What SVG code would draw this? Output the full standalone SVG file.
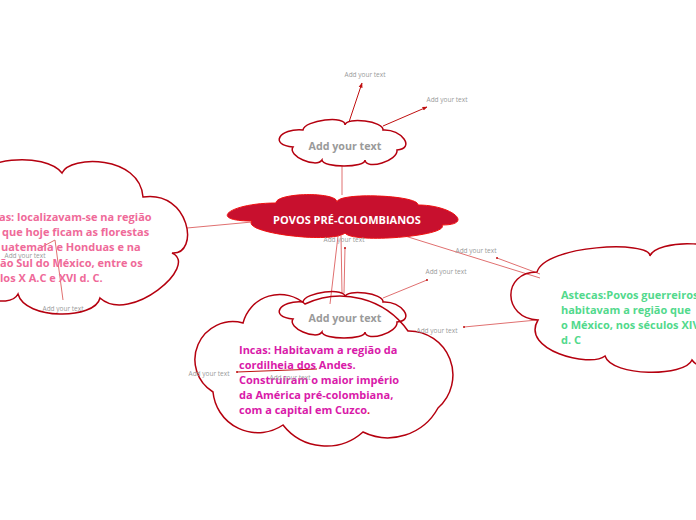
<svg xmlns="http://www.w3.org/2000/svg" width="696" height="520" viewBox="0 0 696 520">
<style>
.cl{fill:none;stroke:#b5000f;stroke-width:1.5}
.cw{fill:#fff;stroke:#b5000f;stroke-width:1.5}
.ln{stroke:#e07070;stroke-width:1;fill:none}
.dk{stroke:#c01010;stroke-width:1;fill:none}
.lb{font-family:"Open Sans","Liberation Sans",sans-serif;font-size:6.5px;fill:#9a9a9a;text-anchor:middle}
.sm{font-family:"Open Sans","Liberation Sans",sans-serif;font-size:10.7px;font-weight:700;fill:#9a9a9a;text-anchor:middle}
.bt{font-family:"Open Sans","Liberation Sans",sans-serif;font-size:11px;font-weight:700}
.dot{fill:#c01010}
</style>
<defs>
<marker id="ar" viewBox="0 0 10 10" refX="9" refY="5" markerWidth="5" markerHeight="5" orient="auto">
<path d="M0,1 L10,5 L0,9 Z" fill="#c01010"/>
</marker>
</defs>
<rect width="696" height="520" fill="#fff"/>

<g id="connectors">
<line class="ln" x1="342" y1="165" x2="342" y2="195" stroke-width="2" stroke="#e59a9a"/>
<line class="dk" x1="349" y1="122" x2="362" y2="83" marker-end="url(#ar)"/>
<line class="dk" x1="383" y1="126" x2="427" y2="107" marker-end="url(#ar)"/>
<line class="ln" x1="187" y1="228" x2="252" y2="222"/>
<line class="ln" x1="338" y1="236" x2="330" y2="304"/>
<line class="ln" x1="341" y1="236" x2="342" y2="293"/>
<line class="ln" x1="345" y1="248" x2="344" y2="293"/>
<circle class="dot" cx="345" cy="248" r="1"/>
<line class="ln" x1="383" y1="298" x2="427" y2="280"/>
<circle class="dot" cx="427" cy="280" r="1"/>
<line class="ln" x1="405" y1="236" x2="540" y2="278"/>
<line class="ln" x1="497" y1="258" x2="540" y2="274"/>
<circle class="dot" cx="497" cy="258" r="1"/>
<line class="ln" x1="464" y1="327" x2="537" y2="320"/>
<circle class="dot" cx="464" cy="327" r="1"/>
<line class="ln" x1="55" y1="240" x2="63" y2="300"/>
<line class="ln" x1="55" y1="240" x2="40" y2="248"/>
<line class="dk" x1="237" y1="372" x2="317" y2="369" stroke="#d05060"/>
<circle class="dot" cx="237" cy="372" r="1"/>
</g>

<g id="central">
<path d="M252,221 C206,221 230,203 276,203 C276,192.5 337,191.5 337,202 C338,192 419,195 418,205 C452,205 475,225 442,225 C450,236 353,244 345,233 C333,244 241,233 252,221 Z" fill="#c8102e" stroke="#f01010" stroke-width="1"/>
<text class="bt" x="347" y="224" fill="#fff" text-anchor="middle" font-size="11.7">POVOS PRÉ-COLOMBIANOS</text>
</g>

<g id="top-cloud">
<path class="cw" d="M293,147 C269,145 279,128 303,130 C304.3,120 346.3,115 345,125 C346.3,116.3 384.3,121.3 383,130 C401.7,128.7 415.7,148.7 397,150 C398.3,160.7 366.3,170.7 365,160 C365.7,168 322.7,168 322,160 C316,168.7 287,155.7 293,147 Z"/>
<text class="sm" x="345" y="149.5">Add your text</text>
</g>

<g id="maias">
<path class="cl" d="M-30,188 C-25,155 45,152 62,173 C70,155 140,155 143,197 C190,190 200,255 172,253 C200,265 130,325 100,298 C95,320 25,320 18,294 C10,310 -40,300 -40,250 Z"/>
<text class="bt" fill="#ef6a99"><tspan x="-1" y="221">as: localizavam-se na região</tspan><tspan x="2" y="236">que hoje ficam as florestas</tspan><tspan x="1" y="251">uatemala e Honduas e na</tspan><tspan x="0" y="267">ão Sul do México, entre os</tspan><tspan x="0" y="282">los X A.C e XVI d. C.</tspan></text>
</g>

<g id="incas">
<path class="cl" d="M213,392 A38,38 0 0 1 243,323 A38,38 0 0 1 305,304 A83,83 0 0 1 408,331 A44,44 0 0 1 438,408 A57,57 0 0 1 363,432 A55,55 0 0 1 283,425 A45,45 0 0 1 213,392 Z"/>
<text class="bt" fill="#d91aa9"><tspan x="239" y="354">Incas: Habitavam a região da</tspan><tspan x="239" y="369">cordilheia dos Andes.</tspan><tspan x="239" y="384">Construíram o maior império</tspan><tspan x="239" y="399">da América pré-colombiana,</tspan><tspan x="239" y="414">com a capital em Cuzco<tspan fill="#e02020">.</tspan></tspan></text>
</g>

<g id="bottom-cloud">
<path class="cl" transform="translate(0,172)" d="M293,147 C269,145 279,128 303,130 C304.3,120 346.3,115 345,125 C346.3,116.3 384.3,121.3 383,130 C401.7,128.7 415.7,148.7 397,150 C398.3,160.7 366.3,170.7 365,160 C365.7,168 322.7,168 322,160 C316,168.7 287,155.7 293,147 Z"/>
<text class="sm" x="345" y="321.5">Add your text</text>
</g>

<g id="astecas">
<path class="cl" d="M537,272 C545,245 650,240 650,256 C655,240 730,235 740,270 L740,345 C735,370 700,372 692,360 C685,377 612,377 605,356 C590,368 520,350 538,320 C502,318 502,272 537,272 Z"/>
<text class="bt" fill="#52d98c"><tspan x="561" y="299">Astecas:Povos guerreiros</tspan><tspan x="561" y="314">habitavam a região  que</tspan><tspan x="561" y="329">o México, nos séculos XIV</tspan><tspan x="561" y="344">d. C</tspan></text>
</g>

<g id="labels">
<text class="lb" x="365" y="77">Add your text</text>
<text class="lb" x="447" y="102">Add your text</text>
<text class="lb" x="344" y="242">Add your text</text>
<text class="lb" x="446" y="274">Add your text</text>
<text class="lb" x="476" y="253">Add your text</text>
<text class="lb" x="437" y="333">Add your text</text>
<text class="lb" x="25" y="258">Add your text</text>
<text class="lb" x="63" y="311">Add your text</text>
<text class="lb" x="209" y="376">Add your text</text>
<text class="lb" x="290" y="380">Add your text</text>
</g>
</svg>
